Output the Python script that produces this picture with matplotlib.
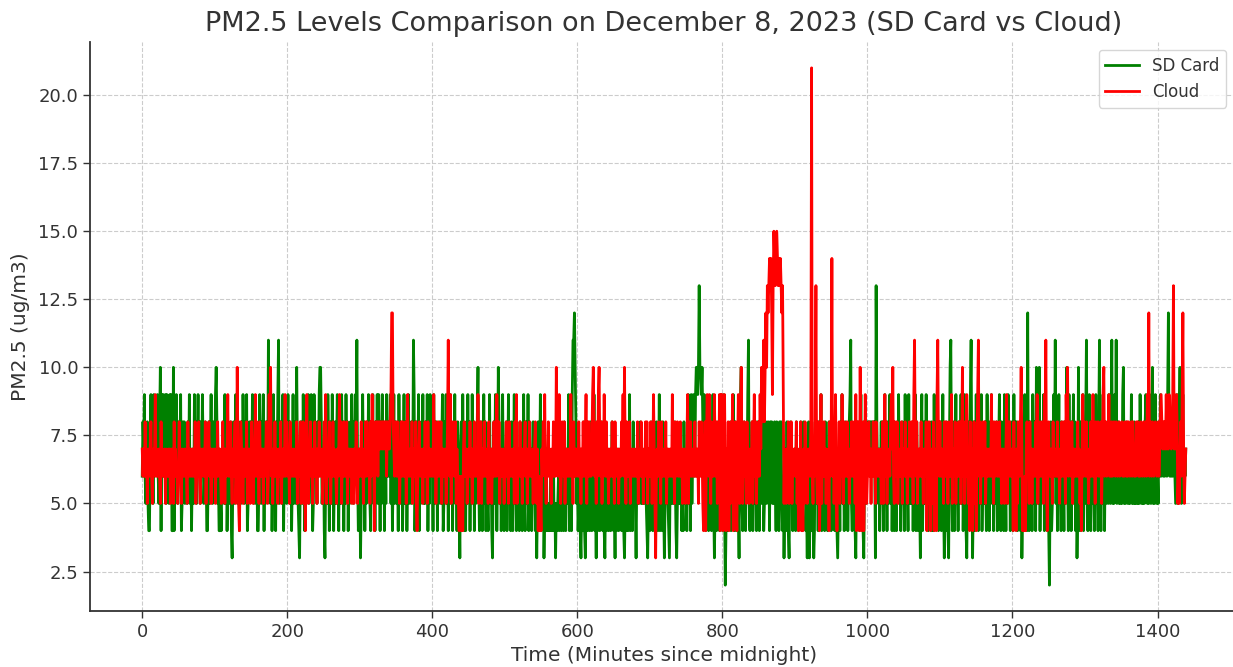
import matplotlib
matplotlib.use('Agg')
import matplotlib.pyplot as plt
import numpy as np

# one character per minute, base 36: '2'..'9' -> 2..9, 'a' -> 10, 'b' -> 11 ... 'l' -> 21
sd_rows = [
    "6879656854 4796859687 79658a4969 8795968597 944a486975 8679458685",
    "6758695746 7596857968 5869756874 4685796587 69a8564454 7685958467",
    "5784368579 6958475869 7586945786 8697568574 4697586948 5786b69584",
    "69574869b5 8675947685 7968574695 685a754368 7596485769 5869745968",
    "75869aa856 7436859746 8597468579 6485796847 5968475869 758698b645",
    "6357968475 8697548695 7486959748 5968475968 6795846957 8574968574",
    "6958746958 7586b94685 6947586957 5869475968 7495868475 8657945869",
    "5748695748 6957486537 8596474859 6847596847 578a645874 6958475469",
    "5743685974 6a85746954 7584695748 5469584756 4857469548 6594857468",
    "5746358469 4658354645 4546454745 3545645745 6485475694 5749bbca85",
    "6457435468 4356475485 4659453647 5465845436 4574654685 4536457456",
    "5468435746 4594654856 5365656856 5657654356 4586475468 5469456485",
    "3565654365 6565864356 5656454865 6479584957 9869aa9ada a9a8695475",
    "6485746953 5746854795 4695245746 5847596485 465379a546 854769b547",
    "5846857485 6487568457 8568748685 7586485748 6854635748 5436857465",
    "7485647586 4685745368 3574653486 5748569475 6485746857 4685746543",
    "5748695746 8574689b54 6754368574 6957436857 8787887878 73d8657468",
    "5846957485 6957468475 4869574685 7495864957 5684759486 4653794685",
    "6958476584 7495685746 5846953648 5437ab6458 4695748569 5846954368",
    "579b635846 9574685946 7586495748 6958476584 5796485749 6485967485",
    "7495868475 6483574965 4c64857496 584a695a47 5869475846 426845796b",
    "5846957485 64857a6495 7486958473 5a64857946 58b6479546 8574695748",
    "b648596475 6859658b56 596b568565 659a565865 5656956585 6565859656",
    "5658965659 658a565965 6586967867 68769c7686 7687657956 8a65796767",
]

cloud_rows = [
    "7676867576 6786576796 7667658676 6757667675 7675867665 6867576676",
    "7658676767 6768567686 5767676857 6786757676 7576867765 6867576796",
    "7686576785 6a75468765 7676857675 6875769686 7586767576 6875697a67",
    "5768676576 6857676968 7675867676 6768576785 7685647965 6786757686",
    "7576867675 6869576786 5768676657 6796857686 7685767675 6757686576",
    "7686757686 8767586978 4787868787 8787878687 8789cc8768 7686757868",
    "6768579676 7685766854 6786767576 8675867676 7696857686 6785767675",
    "68b7695768 7685765465 4647867756 7686757686 6769576857 7686767586",
    "6757686769 7685767675 6786758676 7675869576 6867576786 7576867675",
    "6786574645 4768796576 8676576867 6a78697568 7685767676 6967586767",
    "7686757686 6795868676 79a8675869 a768576976 8675767686 7586767576",
    "68796a7586 7685767676 6768576686 7576868576 6875697536 7686758676",
    "7685767676 6967586786 7686757675 6795868676 7686767586 6875468479",
    "8697586769 7685769498 9489647584 7586947685 479658a657 8675867576",
    "6857968576 8697a89b8a cadcdedec9 dfedefeded edcd957657 6857685767",
    "7685746584 6475867576 768l65768d 6587469576 8675767486 7e68579647",
    "6857697586 7686757686 8675946854 a647846975 6786757686 7586767675",
    "6857968576 76897a6587 6857676857 7686757686 68759b7685 7676867576",
    "6847586476 5847649b76 8676758686 7586769576 6857668685 7a68576975",
    "6485746857 479b685768 7685767676 6967586786 7686757675 6795868676",
    "7485647586 68a7454647 8675867576 7686957686 687597b647 8676758676",
    "7686757686 687597a687 6785767676 8675647968 7686757686 6967586786",
    "768579a687 6879676867 8768767867 7867687686 8767868767 6878676876",
    "78678697c6 8768767876 7867898787 8797879887 89d7879856 57869c7567",
]

x_ticks = [0, 200, 400, 600, 800, 1000, 1200, 1400]
y_ticks = [2.5, 5.0, 7.5, 10.0, 12.5, 15.0, 17.5, 20.0]


def decode(rows):
    return [int(c, 36) for c in ''.join(rows).replace(' ', '')]


sd_card = decode(sd_rows)
cloud = decode(cloud_rows)
t_sd = np.arange(len(sd_card))
t_cloud = np.arange(len(cloud))

txt = '#333333'
plt.rcParams['font.family'] = 'DejaVu Sans'

fig = plt.figure(figsize=(12.33, 6.67), dpi=100)
ax = fig.add_axes([90 / 1233, 56 / 667, 1148 / 1233, 569 / 667])

ax.plot(t_sd, sd_card, color='green', linewidth=2, label='SD Card')
ax.plot(t_cloud, cloud, color='red', linewidth=2, label='Cloud')

ax.set_xlim(-72, 1511)
ax.set_ylim(1.05, 21.95)
ax.set_xticks(x_ticks)
ax.set_yticks(y_ticks)
ax.grid(True, linestyle='--', color='#cccccc', linewidth=0.8)
ax.set_axisbelow(True)

for s in ['top', 'right']:
    ax.spines[s].set_visible(False)
for s in ['left', 'bottom']:
    ax.spines[s].set_color(txt)
    ax.spines[s].set_linewidth(1.3)

ax.tick_params(axis='both', direction='out', length=5, width=1, color=txt,
               labelsize=13, labelcolor=txt)
ax.set_title('PM2.5 Levels Comparison on December 8, 2023 (SD Card vs Cloud)',
             fontsize=19.5, color=txt, pad=8)
ax.set_xlabel('Time (Minutes since midnight)', fontsize=14.5, color=txt, labelpad=4)
ax.set_ylabel('PM2.5 (ug/m3)', fontsize=14.5, color=txt, labelpad=6)

leg = ax.legend(loc='upper right', bbox_to_anchor=(1226 / 1233, 617 / 667),
                bbox_transform=fig.transFigure, borderaxespad=0, fontsize=12,
                frameon=True)
for t in leg.get_texts():
    t.set_color(txt)

plt.savefig('out.png', dpi=100)
